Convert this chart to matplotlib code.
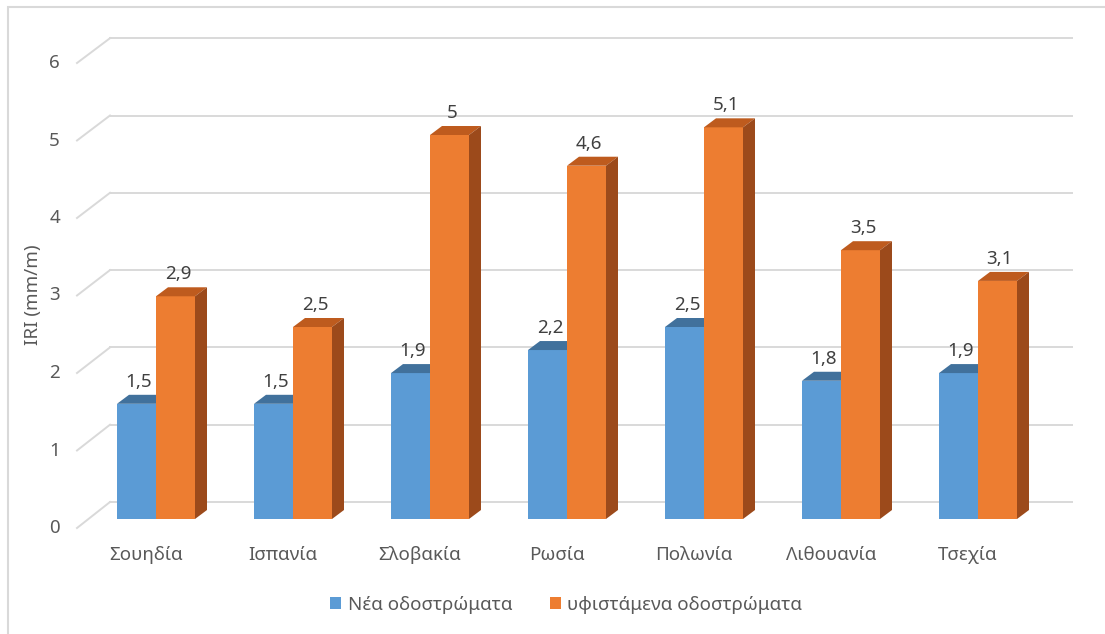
import matplotlib
matplotlib.use("Agg")
import matplotlib.pyplot as plt
from matplotlib.patches import Polygon, Rectangle, Patch
from matplotlib.lines import Line2D

plt.rcParams['font.family'] = ['Noto Sans', 'DejaVu Sans']

# --- data -----------------------------------------------------------------
countries = ["Σουηδία", "Ισπανία", "Σλοβακία", "Ρωσία", "Πολωνία", "Λιθουανία", "Τσεχία"]
new_pavements = [1.5, 1.5, 1.9, 2.2, 2.5, 1.8, 1.9]
existing_pavements = [2.9, 2.5, 5.0, 4.6, 5.1, 3.5, 3.1]
series_names = ["Νέα οδοστρώματα", "υφιστάμενα οδοστρώματα"]
y_ticks = [0, 1, 2, 3, 4, 5, 6]
y_label = "IRI (mm/m)"

# --- styling ----------------------------------------------------------------
FACE = ["#5B9BD5", "#ED7D31"]
TOP = ["#41719C", "#BE5B1E"]
SIDE = ["#31577A", "#9C4A1B"]
GRID = "#D9D9D9"
TEXT = "#595959"
FS = 13.5

W, H, DPI = 1105, 634, 100
fig = plt.figure(figsize=(W / DPI, H / DPI), dpi=DPI)
ax = fig.add_axes([0, 0, 1, 1])
ax.set_axis_off()

# pixel layout of the front plane of the bars
X0_PX, STEP_PX = 156, 137          # centre of first category, spacing
BASE_PX, UNIT_PX = 519, 76.8       # baseline and pixels per IRI unit
ax.set_xlim((0 - X0_PX) / STEP_PX, (W - X0_PX) / STEP_PX)
ax.set_ylim((BASE_PX - H) / UNIT_PX, BASE_PX / UNIT_PX)


def px_x(px):
    return (px - X0_PX) / STEP_PX


def px_y(py):
    return (BASE_PX - py) / UNIT_PX


bar_w = 39 / STEP_PX
dx, dy = 12 / STEP_PX, 9 / UNIT_PX

# back wall gridlines with the slanted floor/side edges
wall_left, wall_right = px_x(110), px_x(1072)
side_front = px_x(77)
for v in y_ticks:
    yb = px_y(502 - 77.3 * v)
    yf = px_y(528 - 77.5 * v)
    ax.add_line(Line2D([wall_left, wall_right], [yb, yb], color=GRID, lw=1.4, zorder=1))
    ax.add_line(Line2D([side_front, wall_left], [yf, yb], color=GRID, lw=1.4, zorder=1))
    ax.text(px_x(60), yf, str(v), ha="right", va="center", fontsize=FS, color=TEXT)

# 3D-style bars: front face through ax.bar, top and side as polygons
for s, values in enumerate([new_pavements, existing_pavements]):
    lefts = [i - bar_w + s * bar_w for i in range(len(values))]
    z = 3 + s
    ax.bar(lefts, values, width=bar_w, align="edge", color=FACE[s],
           edgecolor="none", zorder=z)
    for x0, v in zip(lefts, values):
        x1 = x0 + bar_w
        ax.add_patch(Polygon([(x0, v), (x1, v), (x1 + dx, v + dy), (x0 + dx, v + dy)],
                             closed=True, facecolor=TOP[s], edgecolor="none", zorder=z))
        ax.add_patch(Polygon([(x1, 0), (x1, v), (x1 + dx, v + dy), (x1 + dx, dy)],
                             closed=True, facecolor=SIDE[s], edgecolor="none", zorder=z))
        label = f"{v:g}".replace(".", ",")
        ax.text(x0 + bar_w / 2 + dx * 0.2, v + 22 / UNIT_PX, label, ha="center",
                va="center", fontsize=FS, color="#404040", zorder=6)

# category labels along the front floor edge
for i, name in enumerate(countries):
    ax.text(i - 10 / STEP_PX, px_y(555), name, ha="center", va="center",
            fontsize=FS, color=TEXT)

ax.text(px_x(33), px_y(295), y_label, rotation=90, ha="center", va="center",
        fontsize=FS, color=TEXT)

# legend
handles = [Patch(facecolor=FACE[0]), Patch(facecolor=FACE[1])]
fig.legend(handles, series_names, loc="center", bbox_to_anchor=(566 / W, 1 - 605 / H),
           ncol=2, frameon=False, fontsize=FS, labelcolor=TEXT,
           handlelength=0.6, handleheight=0.6, handletextpad=0.35, columnspacing=2.0)

# chart area border
fig.add_artist(Rectangle((8 / W, -0.05), 1.2, 1 - 7 / H + 0.05, transform=fig.transFigure,
                         fill=False, edgecolor=GRID, lw=1.5))

fig.savefig("out.png", dpi=DPI)
